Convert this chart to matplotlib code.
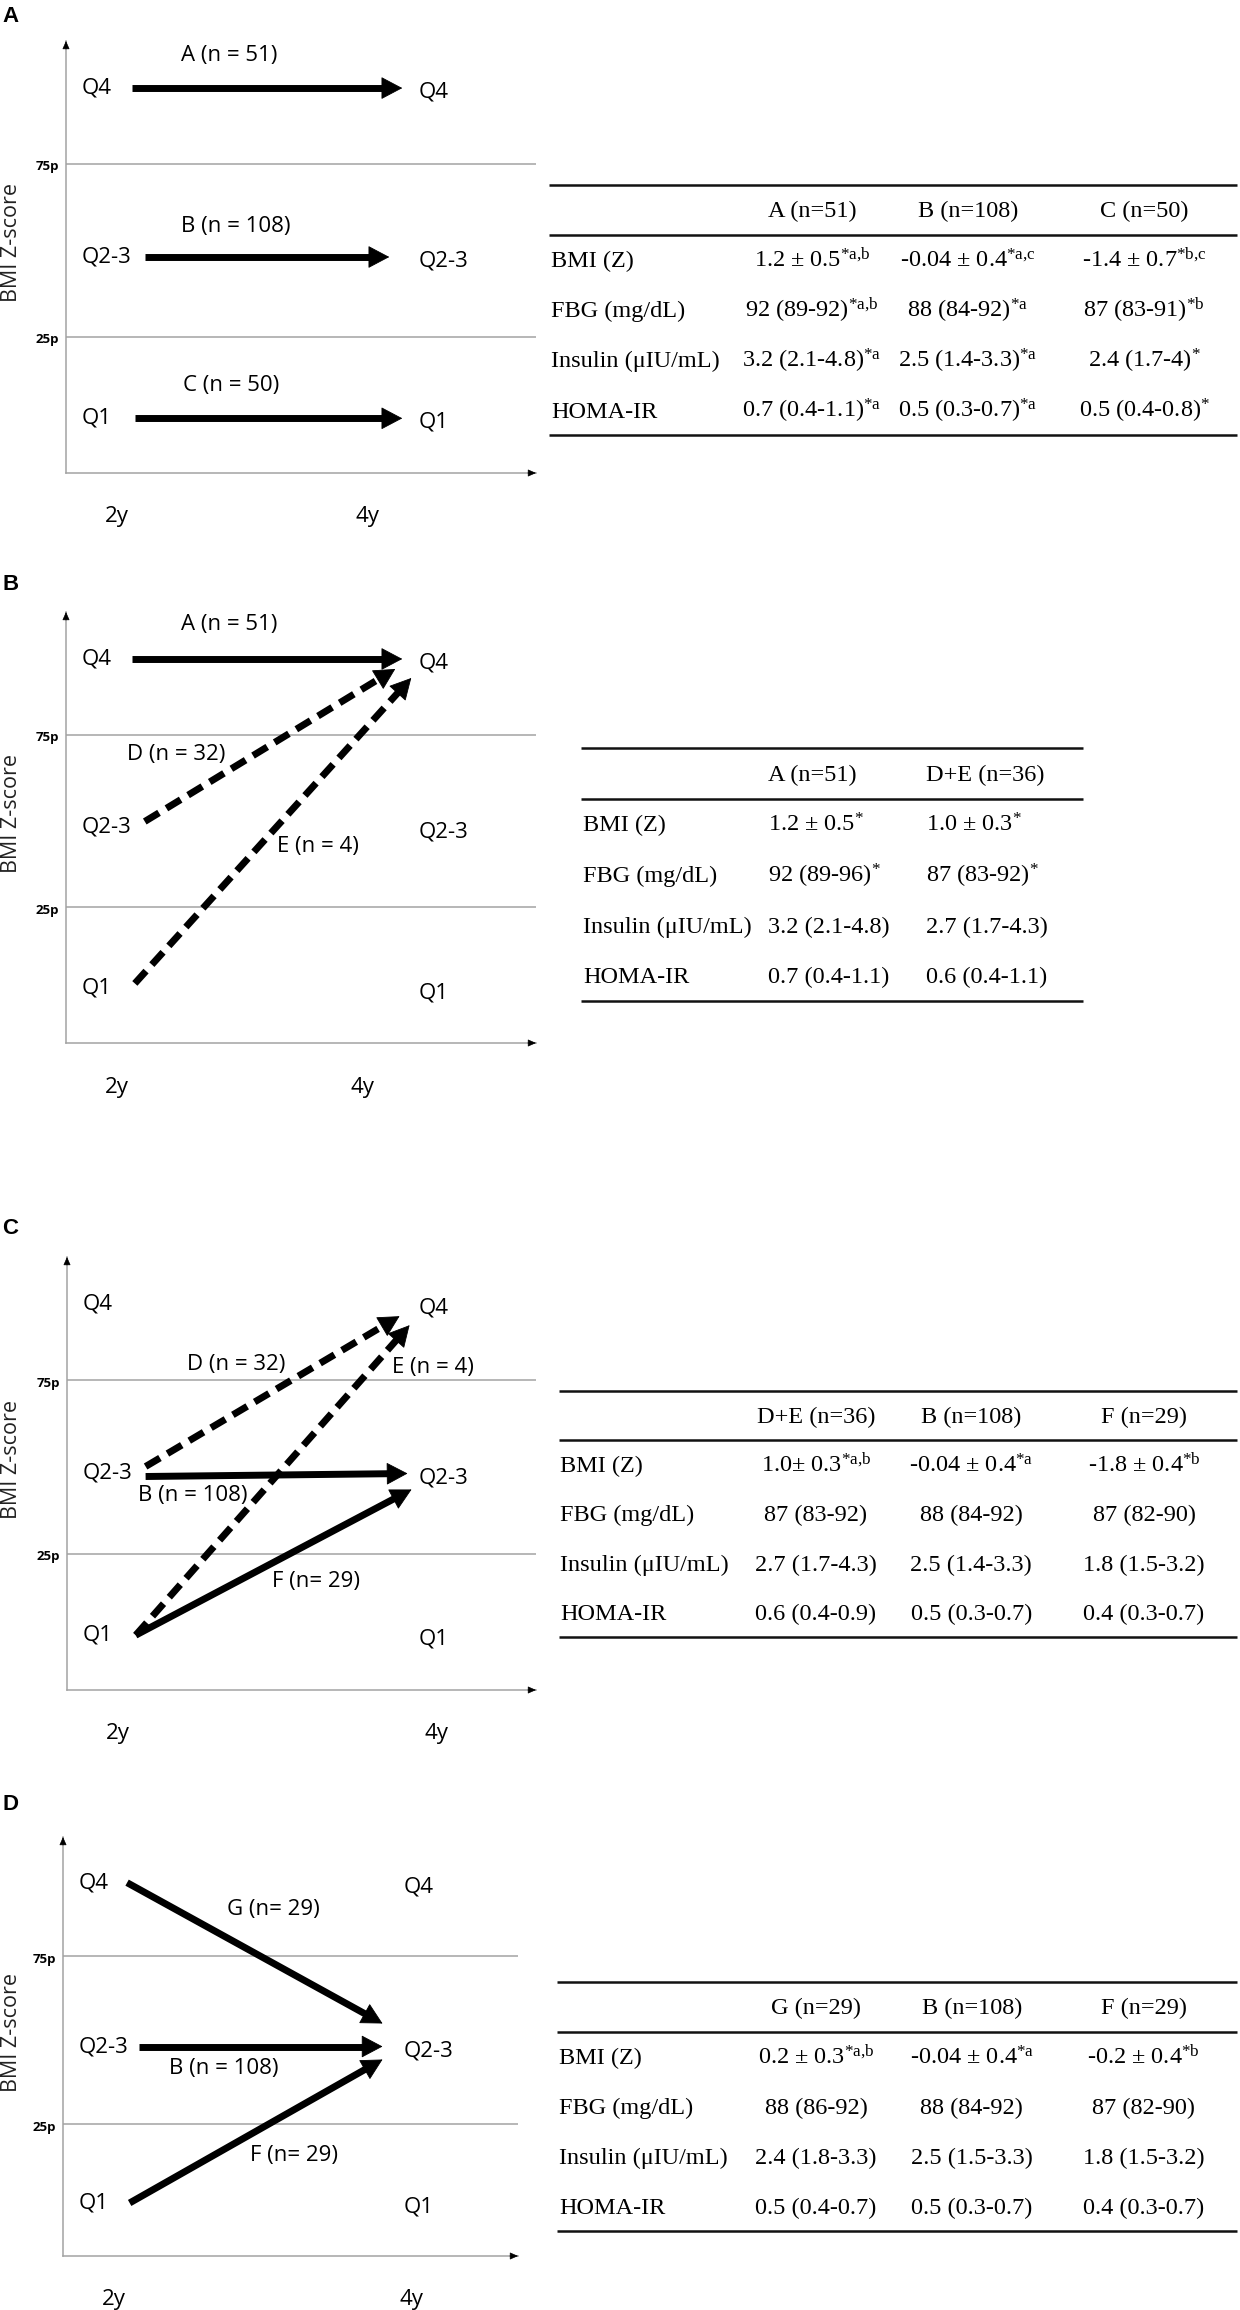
import numpy as np
import matplotlib.pyplot as plt

plt.rcParams['font.family'] = ['Open Sans', 'DejaVu Sans']
plt.rcParams['mathtext.fontset'] = 'custom'
plt.rcParams['mathtext.rm'] = 'Liberation Serif'
plt.rcParams['mathtext.it'] = 'Liberation Serif:italic'
plt.rcParams['mathtext.bf'] = 'Liberation Serif:bold'

W, H = 1240, 2310

# ---------------- data ----------------
LEVELS = ['Q4', 'Q2-3', 'Q1']
CUT_NAMES = ['75p', '25p']
CUT_VALUES = [75, 25]
TIMES = ['2y', '4y']

# trajectory arrows: (label, quartile at 2y, quartile at 4y, line style)
ARROWS_A = [('A (n = 51)', 'Q4', 'Q4', 'solid'),
            ('B (n = 108)', 'Q2-3', 'Q2-3', 'solid'),
            ('C (n = 50)', 'Q1', 'Q1', 'solid')]
ARROWS_B = [('A (n = 51)', 'Q4', 'Q4', 'solid'),
            ('D (n = 32)', 'Q2-3', 'Q4', 'dashed'),
            ('E (n = 4)', 'Q1', 'Q4', 'dashed')]
ARROWS_C = [('D (n = 32)', 'Q2-3', 'Q4', 'dashed'),
            ('E (n = 4)', 'Q1', 'Q4', 'dashed'),
            ('B (n = 108)', 'Q2-3', 'Q2-3', 'solid'),
            ('F (n= 29)', 'Q1', 'Q2-3', 'solid')]
ARROWS_D = [('G (n= 29)', 'Q4', 'Q2-3', 'solid'),
            ('B (n = 108)', 'Q2-3', 'Q2-3', 'solid'),
            ('F (n= 29)', 'Q1', 'Q2-3', 'solid')]

ROW_NAMES = ['BMI (Z)', 'FBG (mg/dL)', 'Insulin (\u03bcIU/mL)', 'HOMA-IR']

HEAD_A = ['A (n=51)', 'B (n=108)', 'C (n=50)']
VALS_A = [['1.2 \u00b1 0.5', '-0.04 \u00b1 0.4', '-1.4 \u00b1 0.7'],
          ['92 (89-92)', '88 (84-92)', '87 (83-91)'],
          ['3.2 (2.1-4.8)', '2.5 (1.4-3.3)', '2.4 (1.7-4)'],
          ['0.7 (0.4-1.1)', '0.5 (0.3-0.7)', '0.5 (0.4-0.8)']]
SUPS_A = [['*a,b', '*a,c', '*b,c'],
          ['*a,b', '*a', '*b'],
          ['*a', '*a', '*'],
          ['*a', '*a', '*']]

HEAD_B = ['A (n=51)', 'D+E (n=36)']
VALS_B = [['1.2 \u00b1 0.5', '1.0 \u00b1 0.3'],
          ['92 (89-96)', '87 (83-92)'],
          ['3.2 (2.1-4.8)', '2.7 (1.7-4.3)'],
          ['0.7 (0.4-1.1)', '0.6 (0.4-1.1)']]
SUPS_B = [['*', '*'],
          ['*', '*'],
          ['', ''],
          ['', '']]

HEAD_C = ['D+E (n=36)', 'B (n=108)', 'F (n=29)']
VALS_C = [['1.0\u00b1 0.3', '-0.04 \u00b1 0.4', '-1.8 \u00b1 0.4'],
          ['87 (83-92)', '88 (84-92)', '87 (82-90)'],
          ['2.7 (1.7-4.3)', '2.5 (1.4-3.3)', '1.8 (1.5-3.2)'],
          ['0.6 (0.4-0.9)', '0.5 (0.3-0.7)', '0.4 (0.3-0.7)']]
SUPS_C = [['*a,b', '*a', '*b'],
          ['', '', ''],
          ['', '', ''],
          ['', '', '']]

HEAD_D = ['G (n=29)', 'B (n=108)', 'F (n=29)']
VALS_D = [['0.2 \u00b1 0.3', '-0.04 \u00b1 0.4', '-0.2 \u00b1 0.4'],
          ['88 (86-92)', '88 (84-92)', '87 (82-90)'],
          ['2.4 (1.8-3.3)', '2.5 (1.5-3.3)', '1.8 (1.5-3.2)'],
          ['0.5 (0.4-0.7)', '0.5 (0.3-0.7)', '0.4 (0.3-0.7)']]
SUPS_D = [['*a,b', '*a', '*b'],
          ['', '', ''],
          ['', '', ''],
          ['', '', '']]

# ---------------- layout / style ----------------
X_MIN, X_MAX = 1.44, 4.99
Y_MIN, Y_MAX = -14.3, 110.5
LEVEL_Y = {'Q4': 96.9, 'Q2-3': 48.1, 'Q1': 1.5}
START_X = {'Q4': 1.94, 'Q2-3': 2.035, 'Q1': 1.96}
TIP_X = 3.98
LEFT_LABEL_X = 1.56
RIGHT_LABEL_X = 4.1

SANS = 16
SERIF = 'Liberation Serif'
TSIZE = 17.5
GRAY = '#a3a3a3'

PANELS = [
    dict(letter='A', letter_y=16, arrows=ARROWS_A, table=(HEAD_A, VALS_A, SUPS_A),
         box=(66, 41, 536, 473), tbox=(549, 185, 1237, 435),
         tcols=[0.382, 0.609, 0.865], talign='center', tlabel=0.003,
         time_x=[1.825, 3.72],
         text_pos=[(2.671, 106.2), (2.724, 57.0), (2.686, 11.0)],
         tip_nudge={1: (-13, 0)}, start_nudge={}),
    dict(letter='B', letter_y=585, arrows=ARROWS_B, table=(HEAD_B, VALS_B, SUPS_B),
         box=(66, 612, 536, 1043), tbox=(581, 748, 1083, 1001),
         tcols=[0.3725, 0.687], talign='left', tlabel=0.004,
         time_x=[1.825, 3.68],
         text_pos=[(2.671, 107.0), (2.271, 69.2), (3.343, 42.6)],
         tip_nudge={1: (-7, 10), 2: (9, 19)}, start_nudge={1: (0, -6), 2: (0, -5)}),
    dict(letter='C', letter_y=1229, arrows=ARROWS_C, table=(HEAD_C, VALS_C, SUPS_C),
         box=(67, 1257, 536, 1690), tbox=(559, 1391, 1237, 1637),
         tcols=[0.379, 0.608, 0.863], talign='center', tlabel=0.0015,
         time_x=[1.826, 4.24],
         text_pos=[(2.719, 79.6), (4.211, 78.7), (2.394, 41.7), (3.325, 17.1)],
         tip_nudge={0: (-3, 12), 1: (7, 21), 2: (5, 0), 3: (9, 16)},
         start_nudge={0: (0, -7), 2: (0, 3)}),
    dict(letter='D', letter_y=1805, arrows=ARROWS_D, table=(HEAD_D, VALS_D, SUPS_D),
         box=(63, 1837, 518, 2256), tbox=(557, 1982, 1237, 2231),
         tcols=[0.381, 0.610, 0.863], talign='center', tlabel=0.003,
         time_x=[1.838, 4.155],
         text_pos=[(3.078, 89.05), (2.696, 41.4), (3.242, 15.5)],
         tip_nudge={0: (-6, -23), 1: (-6, 0), 2: (-6, 13)}, start_nudge={}),
]


def px_box(l, t, r, b):
    return [l / W, 1 - b / H, (r - l) / W, (b - t) / H]


def draw_arrow(ax, p0, p1, style, sx, sy):
    dxp = (p1[0] - p0[0]) * sx
    dyp = (p1[1] - p0[1]) * sy
    length = np.hypot(dxp, dyp)
    ux, uy = dxp / length, dyp / length
    head = 20
    base = (p1[0] - ux * head * 0.8 / sx, p1[1] - uy * head * 0.8 / sy)
    ls = (0, (2.4, 1.25)) if style == 'dashed' else '-'
    ax.plot([p0[0], base[0]], [p0[1], base[1]], color='black', lw=5, ls=ls,
            solid_capstyle='butt', dash_capstyle='butt')
    ax.annotate('', xy=p1, xytext=(p1[0] - ux * head / sx, p1[1] - uy * head / sy),
                arrowprops=dict(arrowstyle='-|>,head_length=1.4,head_width=0.74',
                                mutation_scale=10, color='black', lw=0.6,
                                shrinkA=0, shrinkB=0))


fig = plt.figure(figsize=(W / 100, H / 100), dpi=100)

for p in PANELS:
    fig.text(2 / W, 1 - p['letter_y'] / H, p['letter'], ha='left', va='center',
             fontsize=16, fontweight='bold', family='Liberation Sans')

    l, t, r, b = p['box']
    ax = fig.add_axes(px_box(l, t, r, b))
    ax.set_xlim(X_MIN, X_MAX)
    ax.set_ylim(Y_MIN, Y_MAX)
    ax.axis('off')
    sx = (r - l) / (X_MAX - X_MIN)
    sy = (b - t) / (Y_MAX - Y_MIN)

    # axis lines with small arrow heads
    ax.plot([0, 0], [0, 1], transform=ax.transAxes, color=GRAY, lw=1.1, clip_on=False)
    ax.plot([0, 1], [0, 0], transform=ax.transAxes, color=GRAY, lw=1.1, clip_on=False)
    head_props = dict(arrowstyle='-|>,head_length=0.5,head_width=0.22', mutation_scale=10,
                      color='black', lw=0.5, shrinkA=0, shrinkB=0)
    ax.annotate('', xy=(0, 1), xytext=(0, 1 - 8 / (b - t)), xycoords='axes fraction',
                arrowprops=head_props)
    ax.annotate('', xy=(1, 0), xytext=(1 - 8 / (r - l), 0), xycoords='axes fraction',
                arrowprops=head_props)

    # percentile cut lines
    for name, val in zip(CUT_NAMES, CUT_VALUES):
        ax.axhline(val, color=GRAY, lw=1.1)
        ax.text(-7 / (r - l), val - 3 / sy, name, transform=ax.get_yaxis_transform(),
                ha='right', va='center', fontsize=9.5, fontweight='bold', clip_on=False)

    ax.text(-(l - 12) / (r - l), 0.533, 'BMI Z-score', rotation=90, transform=ax.transAxes,
            ha='center', va='center', fontsize=SANS - 0.5, color='#222222', clip_on=False)

    for tx, lab in zip(p['time_x'], TIMES):
        ax.text(tx, -44 / (b - t), lab, transform=ax.get_xaxis_transform(),
                ha='center', va='center', fontsize=SANS, clip_on=False)

    for lev in LEVELS:
        ax.text(LEFT_LABEL_X, LEVEL_Y[lev], lev, ha='left', va='center', fontsize=SANS)
        ax.text(RIGHT_LABEL_X, LEVEL_Y[lev] - 1.2, lev, ha='left', va='center', fontsize=SANS)

    for i, (txt, fr, to, style) in enumerate(p['arrows']):
        sn = p['start_nudge'].get(i, (0, 0))
        tn = p['tip_nudge'].get(i, (0, 0))
        p0 = (START_X[fr] + sn[0] / sx, LEVEL_Y[fr] - sn[1] / sy)
        p1 = (TIP_X + tn[0] / sx, LEVEL_Y[to] - tn[1] / sy)
        draw_arrow(ax, p0, p1, style, sx, sy)
        lx, ly = p['text_pos'][i]
        ax.text(lx, ly, txt, ha='center', va='center', fontsize=SANS)

    # summary table
    head, vals, sups = p['table']
    l, t, r, b = p['tbox']
    tax = fig.add_axes(px_box(l, t, r, b))
    tax.set_xlim(0, 1)
    tax.set_ylim(4.5, -0.5)
    tax.axis('off')
    for yy in (-0.5, 0.5, 4.5):
        tax.plot([0, 1], [yy, yy], color='#111111', lw=1.8, clip_on=False,
                 solid_capstyle='butt')
    base = 0.15
    for j, h in enumerate(head):
        tax.text(p['tcols'][j], base, h, ha=p['talign'], va='baseline',
                 family=SERIF, fontsize=TSIZE)
    for i, name in enumerate(ROW_NAMES):
        tax.text(p['tlabel'], i + 1 + base, name, ha='left', va='baseline',
                 family=SERIF, fontsize=TSIZE)
        for j, v in enumerate(vals[i]):
            s = v
            if sups[i][j]:
                s += r'$^{\mathrm{%s}}$' % sups[i][j].replace(',', '{,}')
            tax.text(p['tcols'][j], i + 1 + base, s, ha=p['talign'], va='baseline',
                     family=SERIF, fontsize=TSIZE)

fig.savefig('out.png', dpi=100)
